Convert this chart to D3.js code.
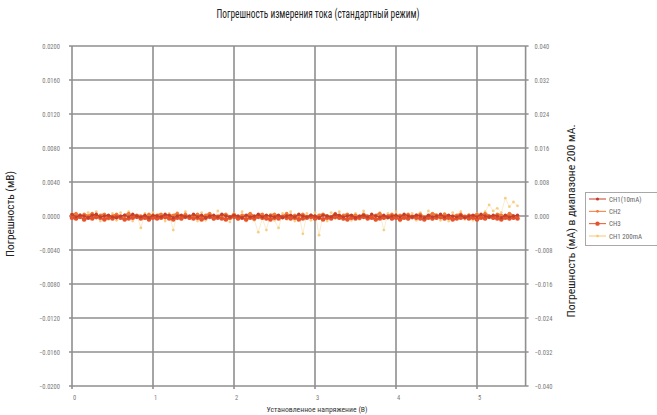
<!DOCTYPE html>
<html><head><meta charset="utf-8">
<script src="https://cdn.jsdelivr.net/npm/d3@7"></script>
<style>
html,body{margin:0;padding:0;background:#fff;}
svg{display:block;}
text{font-family:"Liberation Sans Narrow","Roboto Condensed","Liberation Sans",sans-serif;}
</style></head>
<body>
<svg id="c" width="657" height="415"></svg>
<script>
const title = "Погрешность измерения тока (стандартный режим)";
const xLabel = "Установленное напряжение (В)";
const yLabelLeft = "Погрешность (мВ)";
const yLabelRight = "Погрешность (мА) в диапазоне 200 мА.";
const seriesNames = ["CH1(10mA)", "CH2", "CH3", "CH1 200mA"];
const xTicks = [0, 1, 2, 3, 4, 5];
const yTicksLeft = [0.0200, 0.0160, 0.0120, 0.0080, 0.0040, 0.0000, -0.0040, -0.0080, -0.0120, -0.0160, -0.0200];
const yTicksRight = [0.040, 0.032, 0.024, 0.016, 0.008, 0.000, -0.008, -0.016, -0.024, -0.032, -0.040];

const xs = [0.00,0.05,0.10,0.15,0.20,0.25,0.30,0.35,0.40,0.45,
0.50,0.55,0.60,0.65,0.70,0.75,0.80,0.85,0.90,0.95,
1.00,1.05,1.10,1.15,1.20,1.25,1.30,1.35,1.40,1.45,
1.50,1.55,1.60,1.65,1.70,1.75,1.80,1.85,1.90,1.95,
2.00,2.05,2.10,2.15,2.20,2.25,2.30,2.35,2.40,2.45,
2.50,2.55,2.60,2.65,2.70,2.75,2.80,2.85,2.90,2.95,
3.00,3.05,3.10,3.15,3.20,3.25,3.30,3.35,3.40,3.45,
3.50,3.55,3.60,3.65,3.70,3.75,3.80,3.85,3.90,3.95,
4.00,4.05,4.10,4.15,4.20,4.25,4.30,4.35,4.40,4.45,
4.50,4.55,4.60,4.65,4.70,4.75,4.80,4.85,4.90,4.95,
5.00,5.05,5.10,5.15,5.20,5.25,5.30,5.35,5.40,5.45,5.50];

const ch1 = [0.0002,-0.0001,0.0001,0.0000,-0.0002,0.0001,0.0002,-0.0001,0.0000,0.0001,
-0.0001,-0.0002,0.0000,0.0001,-0.0001,0.0002,0.0000,-0.0001,0.0001,-0.0002,
0.0001,0.0000,-0.0001,0.0002,0.0001,-0.0002,0.0000,0.0001,-0.0001,0.0000,
0.0002,-0.0001,0.0001,-0.0002,0.0000,0.0001,-0.0001,0.0002,0.0000,-0.0001,
0.0001,0.0000,-0.0002,0.0001,-0.0001,0.0000,0.0002,-0.0001,0.0001,0.0000,
-0.0001,0.0001,-0.0002,0.0000,0.0001,-0.0001,0.0002,0.0000,-0.0001,0.0001,
0.0000,-0.0002,0.0001,0.0000,-0.0001,0.0002,0.0001,-0.0001,0.0000,0.0001,
-0.0002,0.0000,0.0001,-0.0001,0.0002,0.0000,-0.0001,0.0001,-0.0002,0.0000,
0.0001,-0.0001,0.0002,0.0000,-0.0001,0.0001,0.0000,-0.0002,0.0001,-0.0001,
0.0000,0.0002,-0.0001,0.0001,0.0000,-0.0001,0.0001,-0.0002,0.0000,0.0001,
-0.0001,0.0002,0.0000,-0.0001,0.0001,0.0000,-0.0002,0.0001,-0.0001,0.0000,0.0001];

const ch2 = [0.0001,0.0003,-0.0001,0.0002,0.0000,0.0003,-0.0002,0.0001,0.0002,-0.0001,
0.0000,0.0002,-0.0002,0.0001,0.0003,-0.0001,0.0001,0.0000,-0.0002,0.0002,
-0.0001,0.0001,0.0002,-0.0002,0.0000,0.0001,0.0003,-0.0001,0.0002,-0.0002,
0.0000,0.0002,-0.0001,0.0001,0.0003,-0.0002,0.0000,0.0001,0.0002,-0.0001,
0.0002,-0.0002,0.0001,0.0000,0.0003,-0.0001,0.0001,0.0002,-0.0002,0.0001,
0.0002,0.0000,-0.0001,0.0003,-0.0002,0.0001,0.0000,0.0002,-0.0001,0.0001,
-0.0002,0.0001,0.0002,0.0000,-0.0001,0.0003,-0.0002,0.0001,0.0002,0.0000,
0.0001,-0.0001,0.0002,0.0000,-0.0002,0.0001,0.0003,-0.0001,0.0000,0.0002,
-0.0001,0.0001,0.0000,0.0002,-0.0002,0.0001,0.0002,-0.0001,0.0000,0.0003,
0.0001,-0.0002,0.0002,0.0000,-0.0001,0.0001,0.0002,-0.0002,0.0001,0.0000,
0.0002,-0.0001,0.0003,0.0000,-0.0002,0.0002,0.0001,-0.0001,0.0003,0.0000,-0.0001];

const ch3 = [-0.0002,-0.0003,-0.0001,-0.0004,-0.0002,-0.0003,-0.0001,-0.0002,-0.0004,-0.0002,
-0.0003,-0.0001,-0.0002,-0.0004,-0.0003,-0.0002,-0.0001,-0.0003,-0.0002,-0.0004,
-0.0002,-0.0003,-0.0002,-0.0001,-0.0003,-0.0004,-0.0002,-0.0003,-0.0001,-0.0002,
-0.0003,-0.0002,-0.0004,-0.0002,-0.0001,-0.0003,-0.0002,-0.0003,-0.0004,-0.0002,
-0.0001,-0.0003,-0.0002,-0.0004,-0.0002,-0.0003,-0.0001,-0.0002,-0.0003,-0.0004,
-0.0002,-0.0003,-0.0001,-0.0002,-0.0003,-0.0002,-0.0004,-0.0003,-0.0002,-0.0001,
-0.0003,-0.0002,-0.0004,-0.0002,-0.0003,-0.0001,-0.0002,-0.0003,-0.0004,-0.0002,
-0.0003,-0.0002,-0.0001,-0.0003,-0.0002,-0.0004,-0.0003,-0.0002,-0.0001,-0.0003,
-0.0002,-0.0004,-0.0002,-0.0003,-0.0001,-0.0002,-0.0003,-0.0004,-0.0002,-0.0003,
-0.0002,-0.0001,-0.0003,-0.0002,-0.0004,-0.0003,-0.0002,-0.0001,-0.0003,-0.0002,
-0.0004,-0.0002,-0.0003,-0.0001,-0.0002,-0.0003,-0.0004,-0.0002,-0.0003,-0.0002,-0.0003];

const ch1_200 = [0.0006,-0.0008,0.0004,-0.0010,0.0008,-0.0006,0.0010,-0.0012,0.0004,-0.0008,
0.0006,-0.0010,0.0008,-0.0004,0.0010,-0.0012,0.0002,-0.0028,0.0006,-0.0010,
0.0008,-0.0006,0.0004,-0.0012,0.0006,-0.0033,0.0008,-0.0008,0.0010,-0.0006,
0.0004,-0.0012,0.0008,-0.0010,0.0006,-0.0008,0.0012,-0.0006,0.0004,-0.0014,
0.0006,-0.0008,0.0010,-0.0012,0.0004,-0.0010,-0.0038,-0.0006,-0.0033,0.0004,
-0.0010,-0.0028,0.0006,-0.0008,0.0010,-0.0012,0.0004,-0.0042,0.0006,-0.0010,
0.0008,-0.0045,0.0004,-0.0012,0.0008,-0.0006,0.0010,-0.0008,0.0004,-0.0010,
0.0006,-0.0008,0.0012,-0.0006,0.0004,-0.0010,0.0008,-0.0033,0.0006,-0.0008,
0.0010,-0.0012,0.0004,-0.0008,0.0006,-0.0010,0.0008,-0.0006,0.0012,-0.0008,
0.0004,-0.0010,0.0006,-0.0012,0.0008,-0.0006,0.0010,-0.0008,0.0004,-0.0010,
0.0006,-0.0006,0.0010,0.0026,0.0012,0.0018,0.0008,0.0042,0.0022,0.0033,0.0024];

const colors = ["#c33f2c", "#f07a36", "#e4532b", "#f4c872"];

const svg = d3.select("#c");
const L = 72, R = 525.6, T = 46, B = 386;
const x = d3.scaleLinear().domain([0, 5.6]).range([L, R]);
const yL = d3.scaleLinear().domain([-0.02, 0.02]).range([B, T]);
const yR = d3.scaleLinear().domain([-0.04, 0.04]).range([B, T]);

function fitText(sel, len) {
  sel.attr("textLength", len).attr("lengthAdjust", "spacingAndGlyphs");
}

// title
svg.append("text").attr("x", 318).attr("y", 18).attr("text-anchor", "middle")
  .attr("font-size", 12).attr("fill", "#222").text(title).call(fitText, 203);

// grid
const grid = svg.append("g").attr("stroke", "#8f8f8f").attr("stroke-width", 1.6);
grid.selectAll("line.h").data(yTicksLeft).join("line")
  .attr("x1", L - 3).attr("x2", R + 3).attr("y1", d => yL(d)).attr("y2", d => yL(d));
grid.selectAll("line.v").data(xTicks).join("line")
  .attr("y1", T).attr("y2", B + 3).attr("x1", d => x(d)).attr("x2", d => x(d));
grid.append("line").attr("x1", R).attr("x2", R).attr("y1", T).attr("y2", B);

// axes labels via d3 axes
const axL = d3.axisLeft(yL).tickValues(yTicksLeft).tickFormat(d3.format(".4f")).tickSize(0).tickPadding(12);
const gL = svg.append("g").attr("transform", `translate(${L},0)`).call(axL);
const axR = d3.axisRight(yR).tickValues(yTicksRight).tickFormat(d3.format(".3f")).tickSize(0).tickPadding(9);
const gR = svg.append("g").attr("transform", `translate(${R},0)`).call(axR);
const axB = d3.axisBottom(x).tickValues(xTicks).tickFormat(d3.format("d")).tickSize(0).tickPadding(9);
const gB = svg.append("g").attr("transform", `translate(0,${B})`).call(axB);
[gL, gR, gB].forEach(g => {
  g.select(".domain").remove();
  g.selectAll("text").attr("font-size", 6.5).attr("fill", "#7a7a7a");
});
gB.selectAll("text").attr("dx", 2);

// axis titles
svg.append("text").attr("transform", "translate(14,214) rotate(-90)").attr("text-anchor", "middle")
  .attr("font-size", 11).attr("fill", "#222").text(yLabelLeft).call(fitText, 86);
svg.append("text").attr("transform", "translate(575,221) rotate(-90)").attr("text-anchor", "middle")
  .attr("font-size", 11).attr("fill", "#222").text(yLabelRight).call(fitText, 193);
svg.append("text").attr("x", 317).attr("y", 412).attr("text-anchor", "middle")
  .attr("font-size", 7).attr("fill", "#333").text(xLabel).call(fitText, 101);

// series
const series = [
  {name: seriesNames[3], vals: ch1_200, y: yR, c: colors[3], r: 1.4, w: 0.7, op: 0.85, lop: 0.5},
  {name: seriesNames[1], vals: ch2, y: yL, c: colors[1], r: 1.7, w: 2.2, op: 1, lop: 1},
  {name: seriesNames[2], vals: ch3, y: yL, c: colors[2], r: 2.3, w: 1.6, op: 1, lop: 1},
  {name: seriesNames[0], vals: ch1, y: yL, c: colors[0], r: 1.7, w: 1.2, op: 1, lop: 1}
];
const plot = svg.append("g");
series.forEach(s => {
  const pts = xs.map((xv, i) => [xv, s.vals[i]]);
  plot.append("path").datum(pts)
    .attr("fill", "none").attr("stroke", s.c).attr("stroke-width", s.w).attr("opacity", s.lop)
    .attr("d", d3.line().x(d => x(d[0])).y(d => s.y(d[1])));
  plot.append("g").selectAll("circle").data(pts).join("circle")
    .attr("cx", d => x(d[0])).attr("cy", d => s.y(d[1])).attr("r", s.r)
    .attr("fill", s.c).attr("opacity", s.op);
});

// legend
const lg = svg.append("g");
lg.append("rect").attr("x", 585.5).attr("y", 192.5).attr("width", 80).attr("height", 53)
  .attr("fill", "#fff").attr("stroke", "#a8a8a8").attr("stroke-width", 1);
const legendItems = [
  {name: seriesNames[0], c: colors[0], r: 1.6},
  {name: seriesNames[1], c: colors[1], r: 1.4},
  {name: seriesNames[2], c: colors[2], r: 2.2},
  {name: seriesNames[3], c: colors[3], r: 1.3}
];
const ly = d3.scalePoint().domain(legendItems.map(d => d.name)).range([199, 236]);
legendItems.forEach(d => {
  lg.append("line").attr("x1", 589).attr("x2", 606).attr("y1", ly(d.name)).attr("y2", ly(d.name))
    .attr("stroke", d.c).attr("stroke-width", 1);
  lg.append("circle").attr("cx", 597.5).attr("cy", ly(d.name)).attr("r", d.r).attr("fill", d.c);
  lg.append("text").attr("x", 609).attr("y", ly(d.name) + 2.5).attr("font-size", 7)
    .attr("fill", "#666").text(d.name);
});
</script>
</body></html>
